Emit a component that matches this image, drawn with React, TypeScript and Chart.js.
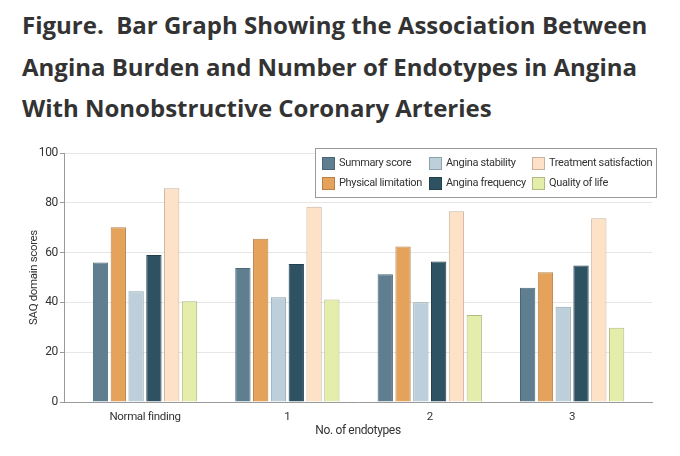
// @ts-nocheck
import {useEffect, useRef} from "react";
import {Chart, registerables} from "chart.js";

Chart.register(...registerables);

const categories = ["Normal finding", "1", "2", "3"];
const summaryScore = [56.0, 53.8, 51.3, 45.9];
const physicalLimitation = [70.2, 65.6, 62.5, 52.1];
const anginaStability = [44.5, 42.1, 40.1, 38.3];
const anginaFrequency = [59.0, 55.4, 56.4, 54.8];
const treatmentSatisfaction = [85.8, 78.4, 76.6, 73.8];
const qualityOfLife = [40.5, 41.2, 34.9, 29.8];
const yTicks = [0, 20, 40, 60, 80, 100];

const FONT = "Roboto, sans-serif";
const TEXT = "#333333";
const SPACING = "-0.35px";

// the category positions sit inside the axis with extra room at both ends,
// so x is a linear scale indexed by category
const toPoints = (values) => values.map((y, i) => ({x: i, y}));

const tightText = {
    id: "tightText",
    beforeLayout(chart) { chart.ctx.letterSpacing = SPACING; },
    beforeDraw(chart) { chart.ctx.letterSpacing = SPACING; },
};

// legend is laid out in columns (2 rows x 3 columns), like the figure
const boxLegend = {
    id: "boxLegend",
    afterDraw(chart) {
        const ctx = chart.ctx;
        const area = chart.chartArea;
        const x0 = area.right - 337;
        const y0 = area.top - 5;
        const w = 342;
        const h = 50;
        ctx.save();
        ctx.letterSpacing = SPACING;
        ctx.fillStyle = "#ffffff";
        ctx.fillRect(x0, y0, w, h);
        ctx.strokeStyle = "#9a9a9a";
        ctx.lineWidth = 1;
        ctx.strokeRect(x0 + 0.5, y0 + 0.5, w - 1, h - 1);
        const colX = [7, 114, 217];
        const rowY = [15, 35];
        ctx.font = "11px " + FONT;
        ctx.textBaseline = "middle";
        chart.data.datasets.forEach((ds, i) => {
            const col = Math.floor(i / 2);
            const row = i % 2;
            const bx = x0 + colX[col];
            const by = y0 + rowY[row];
            ctx.fillStyle = ds.backgroundColor;
            ctx.fillRect(bx, by - 6, 13, 13);
            ctx.strokeStyle = ds.borderColor;
            ctx.strokeRect(bx + 0.5, by - 5.5, 12, 12);
            ctx.fillStyle = TEXT;
            ctx.fillText(ds.label, bx + 17, by + 0.5);
        });
        ctx.restore();
    },
};

function SaqChart() {
    const chartRef = useRef(null);
    const chartInstance = useRef(null);

    useEffect(() => {
        const ctx = chartRef.current?.getContext("2d");
        chartInstance.current = new Chart(ctx, {
            type: "bar",
            data: {
                datasets: [
                    {label: "Summary score", data: toPoints(summaryScore), backgroundColor: "#5f7e8f", borderColor: "#4a6576"},
                    {label: "Physical limitation", data: toPoints(physicalLimitation), backgroundColor: "#e5a25b", borderColor: "#b9814a"},
                    {label: "Angina stability", data: toPoints(anginaStability), backgroundColor: "#bccfda", borderColor: "#8fa3ae"},
                    {label: "Angina frequency", data: toPoints(anginaFrequency), backgroundColor: "#2f5263", borderColor: "#223f4d"},
                    {label: "Treatment satisfaction", data: toPoints(treatmentSatisfaction), backgroundColor: "#fde2c8", borderColor: "#c9b19c"},
                    {label: "Quality of life", data: toPoints(qualityOfLife), backgroundColor: "#e4edaa", borderColor: "#b3bb85"},
                ].map(d => ({...d, borderWidth: 1, categoryPercentage: 0.75, barPercentage: 0.86})),
            },
            options: {
                animation: false,
                responsive: true,
                maintainAspectRatio: false,
                layout: {padding: {left: 20, right: 18, top: 13, bottom: 3}},
                plugins: {
                    legend: {display: false},
                    tooltip: {enabled: false},
                },
                scales: {
                    x: {
                        type: "linear",
                        offset: false,
                        min: -0.569,
                        max: 3.561,
                        afterBuildTicks: (s) => { s.ticks = categories.map((c, i) => ({value: i})); },
                        grid: {display: false, offset: false},
                        border: {color: "#9a9a9a", width: 1},
                        ticks: {color: TEXT, font: {family: FONT, size: 11.5}, padding: 0, callback: (v) => categories[v]},
                        title: {display: true, text: "No. of endotypes", color: TEXT, font: {family: FONT, size: 12}, padding: {top: 6}},
                        afterFit: (s) => { s.height = 40; },
                    },
                    y: {
                        min: 0,
                        max: 100,
                        afterBuildTicks: (s) => { s.ticks = yTicks.map(v => ({value: v})); },
                        grid: {color: "#e6e6e6", tickColor: "#9a9a9a", tickLength: 4},
                        border: {color: "#9a9a9a", width: 1},
                        ticks: {color: TEXT, font: {family: FONT, size: 12}, padding: 2},
                        title: {display: true, text: "SAQ domain scores", color: TEXT, font: {family: FONT, size: 11.5}, padding: {top: 7, bottom: 2}},
                        afterFit: (s) => { s.width = 44; },
                    },
                },
            },
            plugins: [tightText, boxLegend],
        });

        return () => {
            chartInstance.current.destroy();
        };
    }, []);

    return <canvas ref={chartRef}/>;
}

export default function App() {
    return (
        <div style={{position: "absolute", left: 0, top: 0, width: 680, height: 456, background: "#fff", overflow: "hidden"}}>
            <div style={{
                position: "absolute", left: 22, top: 4, width: 670,
                fontFamily: "'Open Sans', sans-serif", fontWeight: 700, fontSize: 24,
                lineHeight: "41.5px", color: "#333333", whiteSpace: "pre",
            }}>
                {"Figure.  Bar Graph Showing the Association Between\nAngina Burden and Number of Endotypes in Angina\nWith Nonobstructive Coronary Arteries"}
            </div>
            <div style={{position: "absolute", left: 0, top: 140, width: 670, height: 305}}>
                <SaqChart/>
            </div>
        </div>
    );
}
